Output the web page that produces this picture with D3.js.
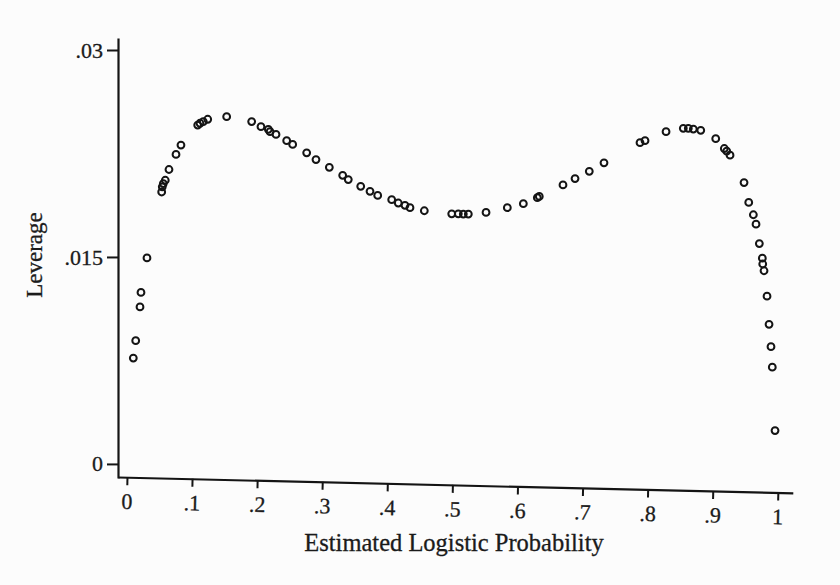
<!DOCTYPE html>
<html>
<head>
<meta charset="utf-8">
<script src="https://cdn.jsdelivr.net/npm/d3@7"></script>
<style>
  html, body { margin: 0; padding: 0; background: #fcfcfc; }
  svg { display: block; }
  text { font-family: "Liberation Serif", "Times New Roman", serif; fill: #1c1c1c; }
</style>
</head>
<body>
<svg id="chart" width="840" height="585"></svg>
<script>
// Estimated logistic probability (x) and leverage (y)
const probability = [
  0.0097, 0.0134, 0.0200, 0.0215, 0.0307, 0.0533, 0.0542, 0.0558, 0.0588, 0.0645,
  0.0753, 0.0829, 0.1086, 0.1121, 0.1172, 0.1240, 0.1531, 0.1915, 0.2058, 0.2171,
  0.2197, 0.2289, 0.2453, 0.2545, 0.2760, 0.2903, 0.3108, 0.3313, 0.3399, 0.3590,
  0.3733, 0.3851, 0.4066, 0.4167, 0.4270, 0.4347, 0.4567, 0.4988, 0.5089, 0.5166,
  0.5243, 0.5515, 0.5842, 0.6088, 0.6303, 0.6333, 0.6697, 0.6882, 0.7101, 0.7327,
  0.7880, 0.7957, 0.8280, 0.8545, 0.8622, 0.8699, 0.8813, 0.9043, 0.9175, 0.9212,
  0.9263, 0.9478, 0.9550, 0.9621, 0.9662, 0.9713, 0.9759, 0.9765, 0.9785, 0.9831,
  0.9862, 0.9892, 0.9912, 0.9954
];
const leverage = [
  0.00767, 0.00893, 0.01138, 0.01243, 0.01493, 0.01971, 0.02008, 0.02032, 0.02056, 0.02134,
  0.02243, 0.02311, 0.02456, 0.02469, 0.02481, 0.02498, 0.02517, 0.02481, 0.02444, 0.02425,
  0.02408, 0.02388, 0.02343, 0.02316, 0.02255, 0.02206, 0.02150, 0.02092, 0.02061, 0.02012,
  0.01976, 0.01946, 0.01915, 0.01891, 0.01874, 0.01857, 0.01835, 0.01813, 0.01813, 0.01811,
  0.01811, 0.01823, 0.01857, 0.01886, 0.01930, 0.01939, 0.02022, 0.02068, 0.02121, 0.02182,
  0.02328, 0.02343, 0.02408, 0.02432, 0.02432, 0.02427, 0.02418, 0.02357, 0.02286, 0.02267,
  0.02238, 0.02039, 0.01895, 0.01806, 0.01738, 0.01597, 0.01491, 0.01449, 0.01400, 0.01216,
  0.01012, 0.00850, 0.00701, 0.00242
];
const xTicks = [0, 0.1, 0.2, 0.3, 0.4, 0.5, 0.6, 0.7, 0.8, 0.9, 1];
const xTickLabels = ["0", ".1", ".2", ".3", ".4", ".5", ".6", ".7", ".8", ".9", "1"];
const yTicks = [0, 0.015, 0.03];
const yTickLabels = ["0", ".015", ".03"];
const xTitle = "Estimated Logistic Probability";
const yTitle = "Leverage";

const svg = d3.select("#chart");
const ink = "#141414";

const x = d3.scaleLinear().domain([-0.0138, 1.0230]).range([118, 793]);
const y = d3.scaleLinear().domain([-0.00102, 0.03087]).range([478, 38]);

// Y axis
const yAxis = d3.axisLeft(y)
  .tickValues(yTicks)
  .tickFormat((d, i) => yTickLabels[i])
  .tickSize(11)
  .tickSizeOuter(0)
  .tickPadding(4);
const gy = svg.append("g").attr("transform", "translate(118,0)").call(yAxis);
gy.select(".domain").attr("stroke", ink).attr("stroke-width", 2.2);
gy.selectAll(".tick line").attr("stroke", ink).attr("stroke-width", 2);
gy.selectAll(".tick text")
  .attr("font-family", "Liberation Serif")
  .attr("font-size", 22)
  .attr("fill", ink)
  .attr("stroke", ink).attr("stroke-width", 0.3);

// X axis (slightly tilted, as in the scanned original)
const xAxis = d3.axisBottom(x)
  .tickValues(xTicks)
  .tickFormat((d, i) => xTickLabels[i])
  .tickSize(8)
  .tickSizeOuter(0)
  .tickPadding(8);
const gx = svg.append("g")
  .attr("transform", "translate(118,477) rotate(1.35) translate(-118,0)")
  .call(xAxis);
gx.select(".domain").attr("stroke", ink).attr("stroke-width", 2.2);
gx.selectAll(".tick line").attr("stroke", ink).attr("stroke-width", 2);
gx.selectAll(".tick text")
  .attr("font-family", "Liberation Serif")
  .attr("font-size", 22)
  .attr("fill", ink)
  .attr("stroke", ink).attr("stroke-width", 0.3);

// Axis titles
svg.append("text")
  .attr("x", 454).attr("y", 551)
  .attr("text-anchor", "middle")
  .attr("font-size", 24.5)
  .attr("fill", ink)
  .attr("stroke", ink).attr("stroke-width", 0.3)
  .text(xTitle);

svg.append("text")
  .attr("transform", "translate(42,255) rotate(-90)")
  .attr("text-anchor", "middle")
  .attr("font-size", 23)
  .attr("fill", ink)
  .attr("stroke", ink).attr("stroke-width", 0.3)
  .text(yTitle);

// Points
svg.append("g").selectAll("circle")
  .data(d3.range(probability.length))
  .join("circle")
  .attr("cx", i => x(probability[i]))
  .attr("cy", i => y(leverage[i]))
  .attr("r", 3.4)
  .attr("fill", "none")
  .attr("stroke", ink)
  .attr("stroke-width", 2);
</script>
</body>
</html>
